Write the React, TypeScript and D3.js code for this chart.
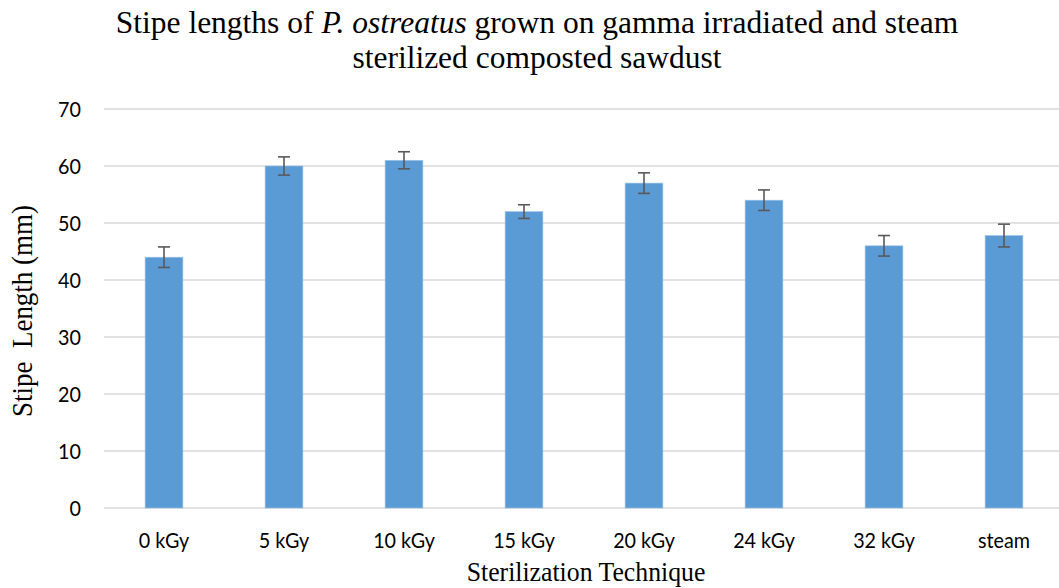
import React from "react";
import * as d3 from "d3";

const categories = ["0 kGy", "5 kGy", "10 kGy", "15 kGy", "20 kGy", "24 kGy", "32 kGy", "steam"];
const stipeLength = [44.0, 60.0, 61.0, 52.0, 57.0, 54.0, 46.0, 47.8];
const errorValues = [1.8, 1.6, 1.5, 1.2, 1.8, 1.8, 1.8, 2.0];
const yTicks = [0, 10, 20, 30, 40, 50, 60, 70];

const W = 1059;
const H = 588;
const left = 104;
const right = 1064;
const top = 109;
const bottom = 508;

export default function App() {
  const x = d3.scaleBand<string>().domain(categories).range([left, right]).paddingInner(0.685).paddingOuter(0.3425);
  const y = d3.scaleLinear().domain([0, 70]).range([bottom, top]);
  const bw = x.bandwidth();
  const serif = "'Liberation Serif', 'Times New Roman', serif";
  const sans = "Lato, 'Open Sans', sans-serif";
  const tickSX = 0.94;
  return (
    <svg width={W} height={H} style={{ position: "absolute", left: 0, top: 0, background: "#fff" }}>
      <rect width={W} height={H} fill="#fff" />
      <text x={537} y={33} textAnchor="middle" fontFamily={serif} fontSize={31.5} fill="#000">
        Stipe lengths of <tspan fontStyle="italic">P. ostreatus</tspan> grown on gamma irradiated and steam
      </text>
      <text x={537} y={68} textAnchor="middle" fontFamily={serif} fontSize={31.5} fill="#000">
        sterilized composted sawdust
      </text>
      {yTicks.map((t) => (
        <g key={t}>
          <line x1={left} x2={W} y1={y(t)} y2={y(t)} stroke="#d9d9d9" strokeWidth={1.3} />
          <text
            transform={`translate(81, ${y(t) + 7.5}) scale(${tickSX}, 1)`}
            textAnchor="end"
            fontFamily={sans}
            fontSize={21}
            fill="#000"
          >
            {t}
          </text>
        </g>
      ))}
      {categories.map((c, i) => {
        const cx = (x(c) as number) + bw / 2;
        const v = stipeLength[i];
        const e = errorValues[i];
        return (
          <g key={c}>
            <rect x={x(c)} y={y(v)} width={bw} height={y(0) - y(v)} fill="#5b9bd5" stroke="#9dc3e6" strokeWidth={0.6} />
            <line x1={cx} x2={cx} y1={y(v + e)} y2={y(v - e)} stroke="#595959" strokeWidth={1.6} />
            <line x1={cx - 6} x2={cx + 6} y1={y(v + e)} y2={y(v + e)} stroke="#595959" strokeWidth={1.6} />
            <line x1={cx - 6} x2={cx + 6} y1={y(v - e)} y2={y(v - e)} stroke="#595959" strokeWidth={1.6} />
            <text
              transform={`translate(${cx}, 548) scale(${tickSX}, 1)`}
              textAnchor="middle"
              fontFamily={sans}
              fontSize={21}
              fill="#000"
            >
              {c}
            </text>
          </g>
        );
      })}
      <text
        transform="translate(586, 581) scale(0.92, 1)"
        textAnchor="middle"
        fontFamily={serif}
        fontSize={28}
        fill="#000"
      >
        Sterilization Technique
      </text>
      <text
        transform="translate(32, 311) rotate(-90) scale(1, 1.3)"
        textAnchor="middle"
        fontFamily={serif}
        fontSize={22}
        fill="#000"
        textLength={212}
        lengthAdjust="spacingAndGlyphs"
        style={{ whiteSpace: "pre" }}
      >
        {"Stipe  Length (mm)"}
      </text>
    </svg>
  );
}
